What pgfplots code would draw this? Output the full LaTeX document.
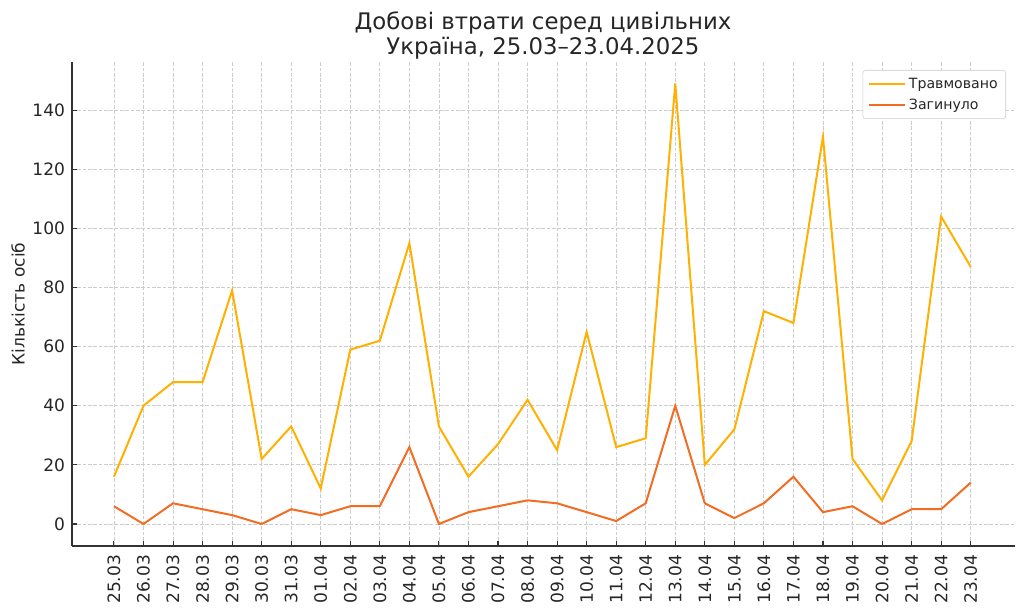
\documentclass[border=0pt]{standalone}
\usepackage{fontspec}
\setmainfont{DejaVu Sans}
\usepackage{pgfplots}
\pgfplotsset{compat=1.18}
\definecolor{injured}{RGB}{255,176,0}
\definecolor{killed}{RGB}{242,108,35}
\definecolor{txt}{RGB}{38,38,38}
\definecolor{gridc}{RGB}{204,204,204}
\definecolor{spine}{RGB}{51,51,51}
\pgfplotstableread{
x inj kil
0 16 6
1 40 0
2 48 7
3 48 5
4 79 3
5 22 0
6 33 5
7 12 3
8 59 6
9 62 6
10 95 26
11 33 0
12 16 4
13 27 6
14 42 8
15 25 7
16 65 4
17 26 1
18 29 7
19 149 40
20 20 7
21 32 2
22 72 7
23 68 16
24 131 4
25 22 6
26 8 0
27 28 5
28 104 5
29 87 14
}\data
\begin{document}
\begin{tikzpicture}
\useasboundingbox (0,0) rectangle (768pt,458.25pt);
\begin{axis}[
  at={(54pt,48.75pt)}, anchor=south west,
  scale only axis, width=707.25pt, height=363pt,
  xmin=-1.42, xmax=30.5, ymin=-7.45, ymax=156.3,
  axis x line*=bottom, axis y line*=left,
  axis line style={spine, line width=1pt, -},
  xtick={0,...,29},
  xticklabels={25.03,26.03,27.03,28.03,29.03,30.03,31.03,01.04,02.04,03.04,04.04,05.04,06.04,07.04,08.04,09.04,10.04,11.04,12.04,13.04,14.04,15.04,16.04,17.04,18.04,19.04,20.04,21.04,22.04,23.04},
  ytick={0,20,...,140},
  tick align=inside, major tick length=3.8pt,
  tick style={spine, line width=0.8pt},
  ticklabel style={font=\fontsize{12.8}{15}\selectfont, text=txt},
  /pgf/number format/assume math mode=true,
  xticklabel style={rotate=90, anchor=east, inner sep=0pt},
  xticklabel shift=6.5pt,
  yticklabel style={inner sep=0pt},
  yticklabel shift=5pt,
  grid=major,
  major grid style={gridc, dash pattern=on 2.8pt off 1.2pt, line width=0.6pt},
  legend style={at={(rel axis cs:1,1)}, xshift=-6.75pt, yshift=-6pt, anchor=north east,
    font=\fontsize{10.6}{12.8}\selectfont, text=txt, draw=gridc, rounded corners=2pt,
    fill=white, inner xsep=4pt, inner ysep=3.6pt, row sep=2.5pt},
  legend cell align=left,
  legend image code/.code={\path (0pt,0pt) -- (27pt,0pt); \draw[#1] (0pt,0pt) -- (22.5pt,0pt);},
]
\addplot[injured, line width=1.5pt] table[x=x, y=inj] {\data};
\addlegendentry{Травмовано}
\addplot[killed, line width=1.5pt] table[x=x, y=kil] {\data};
\addlegendentry{Загинуло}
\end{axis}
\node[anchor=base, text=txt, font=\fontsize{17.1}{20}\selectfont, inner sep=0pt] at (407.25pt,435.75pt) {Добові втрати серед цивільних};
\node[anchor=base, text=txt, font=\fontsize{17.1}{20}\selectfont, inner sep=0pt] at (407.25pt,417pt) {Україна, 25.03–23.04.2025};
\node[rotate=90, text=txt, font=\fontsize{12.8}{15}\selectfont, inner sep=0pt] at (13.5pt,230.25pt) {Кількість осіб};
\end{tikzpicture}
\end{document}
